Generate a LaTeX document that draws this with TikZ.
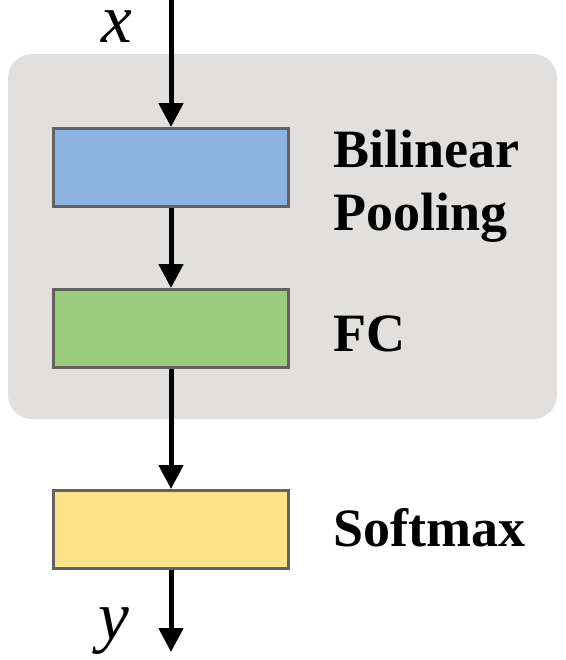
\documentclass[tikz,border=0pt]{standalone}
\usepackage{fontspec}
\setmainfont{Liberation Serif}
\usetikzlibrary{arrows.meta,positioning}
\definecolor{bgGray}{RGB}{225,224,222}
\definecolor{edgeGray}{RGB}{100,98,96}
\definecolor{poolBlue}{RGB}{141,180,225}
\definecolor{fcGreen}{RGB}{156,204,126}
\definecolor{softYellow}{RGB}{252,226,138}
\tikzset{
  layer/.style = {draw=edgeGray, line width=2.25pt, minimum width=176.25pt,
                  minimum height=58.5pt, inner sep=0pt},
  lbl/.style   = {anchor=base west, inner sep=0pt, align=left,
                  font=\bfseries\fontsize{40.5}{47.25}\selectfont},
  var/.style   = {anchor=base, inner sep=0pt, text height=1ex,
                  font=\itshape\fontsize{52}{56}\selectfont},
  arr/.style   = {-{Triangle[length=18pt,width=18pt]}, line width=3.75pt}
}

\begin{document}
\begin{tikzpicture}[x=0.75pt, y=-0.75pt]
\useasboundingbox (0,0) rectangle (566,660);

% grey block round the pooling part
\fill[bgGray, rounded corners=18pt] (8,54) rectangle (557,419);

% layers
\node[layer, fill=poolBlue] (pool) at (171,167.5) {};
\node[layer, fill=fcGreen] (fc) at (171,328.5) {};
\node[layer, fill=softYellow] (soft) at (171,529.5) {};

% labels (base = last line)
\node[lbl] (poolL) at (333,230) {Bilinear\\Pooling};
\node[lbl] (fcL) at (333,351) {FC};
\node[lbl] (softL) at (333,546) {Softmax};

% input / output
\coordinate (in) at (171,0);
\coordinate (out) at (171,652);
\node[var] (xL) at (117,43) {x};
\node[var] (yL) at (114,639) {y};

% arrows
\draw[arr] (in) -- (pool);
\draw[arr] (pool) -- (fc);
\draw[arr] (fc) -- (soft);
\draw[arr] (soft) -- (out);

\end{tikzpicture}
\end{document}
